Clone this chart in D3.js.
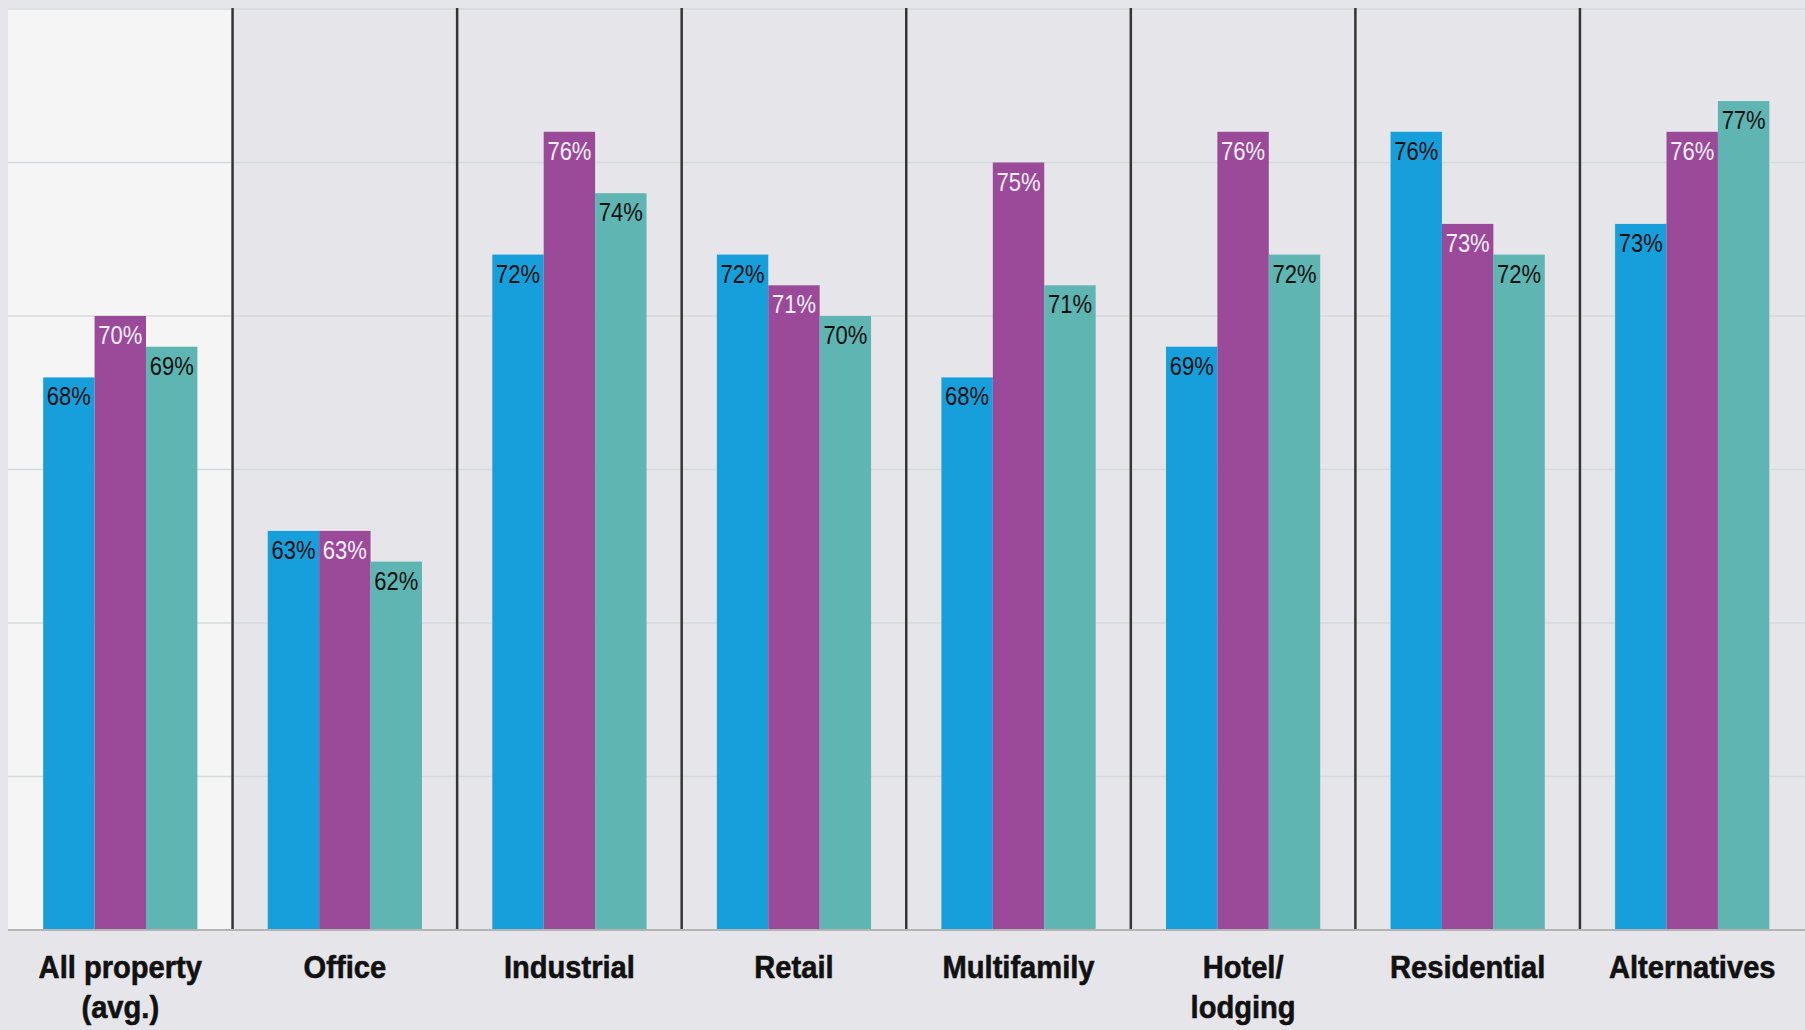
<!DOCTYPE html>
<html>
<head>
<meta charset="utf-8">
<script src="https://cdn.jsdelivr.net/npm/d3@7"></script>
<style>
  html, body { margin: 0; padding: 0; background: #e6e6ea; }
  svg { display: block; }
</style>
</head>
<body>
<svg id="chart" width="1805" height="1030"></svg>
<script>
const categories = ["All property\n(avg.)", "Office", "Industrial", "Retail", "Multifamily", "Hotel/\nlodging", "Residential", "Alternatives"];
const seriesNames = ["Series A", "Series B", "Series C"];
const seriesA = [68, 63, 72, 72, 68, 69, 76, 73];
const seriesB = [70, 63, 76, 71, 75, 76, 73, 76];
const seriesC = [69, 62, 74, 70, 71, 72, 72, 77];
const seriesColors = ["#179fdc", "#9a4a99", "#5fb5b2"];
const labelColors = ["#111111", "#f4eef6", "#111111"];
const yTicks = [50, 55, 60, 65, 70, 75, 80];

(function () {
const seriesValues = [seriesA, seriesB, seriesC];
const data = categories.map((c, i) => ({
  cat: c,
  vals: seriesNames.map((s, j) => ({ series: s, idx: j, value: seriesValues[j][i] }))
}));

const W = 1805;
const pLeft = 8, pRight = 1804.5, pTop = 9, pBottom = 930;
const FONT = "'Liberation Sans', Arial, sans-serif";
const svg = d3.select("#chart");

const x0 = d3.scaleBand().domain(categories).range([pLeft, pRight]).paddingInner(0).paddingOuter(0);
const x1 = d3.scaleBand().domain(seriesNames).range([0, x0.bandwidth()]).paddingInner(0).paddingOuter(0.684);
const y = d3.scaleLinear().domain([50, 80]).range([pBottom, pTop]);

// group backgrounds
svg.append("g").selectAll("rect").data(categories).join("rect")
  .attr("x", d => x0(d)).attr("y", pTop - 1)
  .attr("width", x0.bandwidth()).attr("height", pBottom - pTop + 1)
  .attr("fill", (d, i) => i === 0 ? "#f5f5f6" : "#e6e6ea");

// gridlines
svg.append("g").selectAll("line").data(yTicks.slice(1)).join("line")
  .attr("x1", pLeft).attr("x2", W)
  .attr("y1", d => y(d)).attr("y2", d => y(d))
  .attr("stroke", "#d6dada").attr("stroke-width", 1.5);

// group dividers
svg.append("g").selectAll("line").data(categories.slice(1)).join("line")
  .attr("x1", d => x0(d)).attr("x2", d => x0(d))
  .attr("y1", pTop - 1).attr("y2", pBottom)
  .attr("stroke", "#353535").attr("stroke-width", 2.5);

// bars
const groups = svg.append("g").selectAll("g").data(data).join("g")
  .attr("transform", d => `translate(${x0(d.cat)},0)`);

groups.selectAll("rect").data(d => d.vals).join("rect")
  .attr("x", d => x1(d.series))
  .attr("y", d => y(d.value))
  .attr("width", x1.bandwidth())
  .attr("height", d => pBottom - y(d.value))
  .attr("fill", d => seriesColors[d.idx]);

groups.selectAll("text").data(d => d.vals).join("text")
  .attr("transform", d => `translate(${x1(d.series) + x1.bandwidth() / 2},${y(d.value) + 28}) scale(0.88,1)`)
  .attr("text-anchor", "middle")
  .attr("font-family", FONT)
  .attr("font-size", 25)
  .attr("fill", d => labelColors[d.idx])
  .text(d => d.value + "%");

// baseline
svg.append("line")
  .attr("x1", pLeft).attr("x2", W)
  .attr("y1", pBottom).attr("y2", pBottom)
  .attr("stroke", "#b4b4b4").attr("stroke-width", 2);

// category labels
const xAxis = svg.append("g");
categories.forEach(c => {
  const cx = x0(c) + x0.bandwidth() / 2;
  const t = xAxis.append("text")
    .attr("transform", `translate(${cx},978) scale(0.91,1)`)
    .attr("text-anchor", "middle")
    .attr("font-family", FONT)
    .attr("font-weight", "bold")
    .attr("font-size", 32)
    .attr("fill", "#111")
    .attr("stroke", "#111")
    .attr("stroke-width", 0.6);
  c.split("\n").forEach((line, i) => {
    t.append("tspan").attr("x", 0).attr("dy", i === 0 ? 0 : 40).text(line);
  });
});
})();
</script>
</body>
</html>
